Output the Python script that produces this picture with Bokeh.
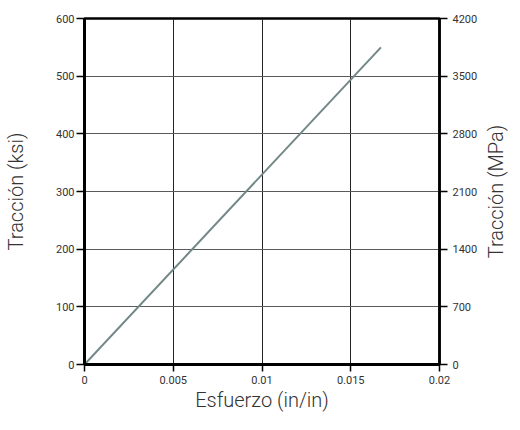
from bokeh.plotting import figure
from bokeh.layouts import row
from bokeh.models import Range1d, LinearAxis, FixedTicker, CustomJSTickFormatter
from bokeh.embed import file_html
from bokeh.resources import INLINE

# data
strain = [0.0, 0.0167]          # in/in
stress_ksi = [0.0, 550.0]       # ksi
x_ticks = [0, 0.005, 0.01, 0.015, 0.02]
ksi_ticks = [0, 100, 200, 300, 400, 500, 600]
mpa_ticks = [0, 700, 1400, 2100, 2800, 3500, 4200]
x_title = "Esfuerzo (in/in)"
left_title = "Tracción (ksi)"
right_title = "Tracción (MPa)"

TICK_FONT = "Roboto"
TITLE_FONT = "Roboto Light, Roboto"
TITLE_SIZE = "20px"

p = figure(frame_width=355, frame_height=346, output_backend="svg", toolbar_location=None,
           x_range=Range1d(0, 0.02), y_range=Range1d(0, 600),
           min_border_left=84, min_border_right=40, min_border_top=18, min_border_bottom=40,
           background_fill_color="white", border_fill_color="white")
p.extra_y_ranges = {"mpa": Range1d(0, 4200)}

p.line(strain, stress_ksi, line_color="#728787", line_width=2)

p.outline_line_color = "black"
p.outline_line_width = 2.5
p.outline_line_alpha = 1

p.xgrid.ticker = FixedTicker(ticks=x_ticks)
p.ygrid.ticker = FixedTicker(ticks=ksi_ticks)
p.xgrid.grid_line_color = "#222222"
p.ygrid.grid_line_color = "#5a5a5a"
p.xgrid.grid_line_width = 1
p.ygrid.grid_line_width = 1

fmt = CustomJSTickFormatter(code="return String(+tick.toFixed(4));")

def style_axis(ax):
    ax.axis_line_color = "black"
    ax.axis_line_width = 3
    ax.major_tick_line_color = "black"
    ax.major_tick_line_width = 1.5
    ax.major_tick_out = 8
    ax.major_tick_in = 0
    ax.minor_tick_out = 0
    ax.minor_tick_in = 0
    ax.major_label_text_font = TICK_FONT
    ax.major_label_text_font_size = "11px"
    ax.major_label_text_color = "#333333"
    ax.axis_label_text_font = TITLE_FONT
    ax.axis_label_text_font_size = TITLE_SIZE
    ax.axis_label_text_font_style = "normal"
    ax.axis_label_text_color = "#333333"

xa = p.xaxis[0]
xa.ticker = FixedTicker(ticks=x_ticks)
xa.formatter = fmt
xa.axis_label = x_title
style_axis(xa)
xa.major_tick_out = 7
xa.major_label_standoff = 4
xa.axis_label_standoff = 1

ya = p.yaxis[0]
ya.ticker = FixedTicker(ticks=ksi_ticks)
ya.axis_label = left_title
style_axis(ya)
ya.major_label_standoff = 2
ya.axis_label_standoff = 25

# right axis with MPa ticks
ra = LinearAxis(y_range_name="mpa")
ra.ticker = FixedTicker(ticks=mpa_ticks)
style_axis(ra)
ra.axis_line_width = 2.5
ra.major_label_standoff = 5
p.add_layout(ra, "right")

# narrow companion figure carrying the right-hand title (reads bottom-to-top)
side = figure(frame_width=2, frame_height=346, output_backend="svg", toolbar_location=None,
              x_range=Range1d(0, 1), y_range=Range1d(0, 1), x_axis_location=None,
              min_border_left=0, min_border_right=0, min_border_top=18, min_border_bottom=40,
              background_fill_color="white", border_fill_color="white")
side.outline_line_color = None
side.grid.visible = False
sa = side.yaxis[0]
sa.ticker = FixedTicker(ticks=[])
sa.axis_line_color = None
sa.major_tick_out = 0
sa.major_tick_in = 0
sa.minor_tick_out = 0
sa.minor_tick_in = 0
sa.major_label_text_alpha = 0
sa.axis_label = right_title
sa.axis_label_standoff = 1
sa.axis_label_text_font = TITLE_FONT
sa.axis_label_text_font_size = TITLE_SIZE
sa.axis_label_text_font_style = "normal"
sa.axis_label_text_color = "#333333"

layout = row(p, side, spacing=0)

open("out.html", "w").write(file_html(layout, INLINE))
